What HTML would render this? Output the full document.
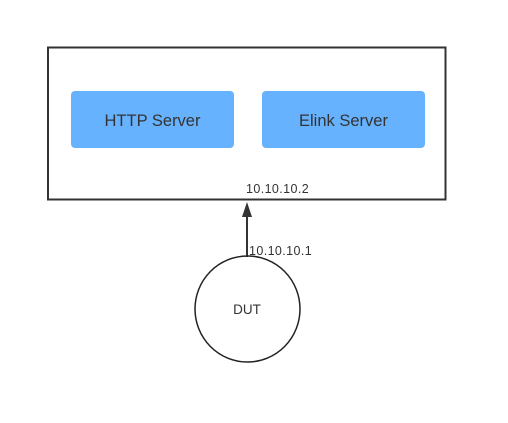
<!DOCTYPE html>
<html><head><style>body{margin:0;background:#fff}</style></head><body>
<svg width="508" height="423" xmlns="http://www.w3.org/2000/svg" style="display:block">
<rect width="508" height="423" fill="#fff"/>
<rect x="48" y="47.5" width="397.5" height="152" fill="none" stroke="#333" stroke-width="2"/>
<rect x="71" y="91" width="163" height="57" rx="4" fill="#66b2ff"/>
<rect x="262" y="91" width="163" height="57" rx="4" fill="#66b2ff"/>
<g font-family="Liberation Sans, sans-serif" fill="#333">
<text x="152.5" y="126" font-size="16.5" text-anchor="middle">HTTP Server</text>
<text x="343.5" y="126" font-size="16.5" text-anchor="middle">Elink Server</text>
<text x="246" y="193" font-size="12.5" letter-spacing="0.4">10.10.10.2</text>
<text x="249" y="255" font-size="12.5" letter-spacing="0.4">10.10.10.1</text>
<text x="247" y="314" font-size="13.5" text-anchor="middle">DUT</text>
</g>
<line x1="247" y1="257" x2="247" y2="214" stroke="#333" stroke-width="2"/>
<polygon points="247,202 242,217 252,217" fill="#333"/>
<ellipse cx="247.5" cy="309" rx="52.5" ry="53" fill="none" stroke="#222" stroke-width="1.5"/>
</svg>
</body></html>
